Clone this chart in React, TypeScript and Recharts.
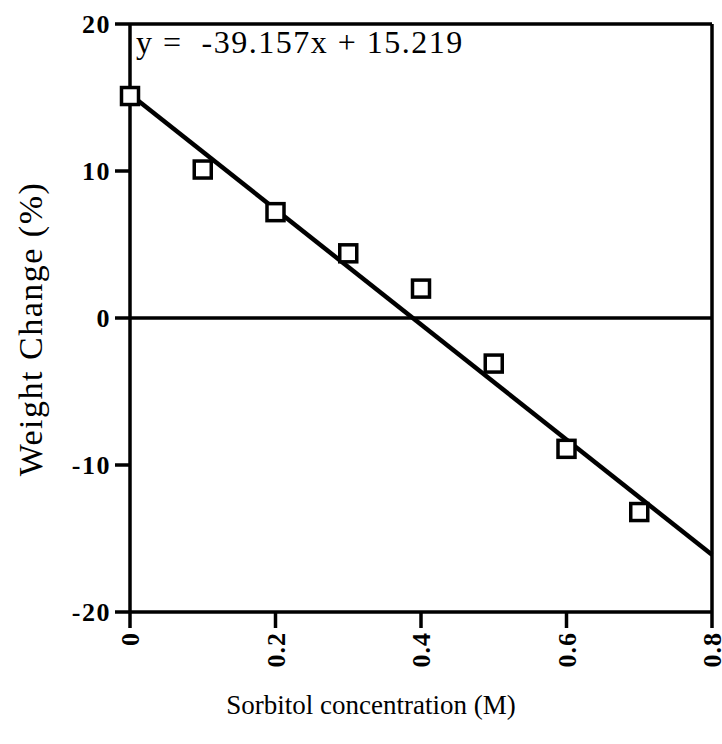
import {
  ComposedChart,
  Scatter,
  Line,
  XAxis,
  YAxis,
  ReferenceLine,
} from "recharts";

const concentration = [0, 0.1, 0.2, 0.3, 0.4, 0.5, 0.6, 0.7];
const weightChange = [15.1, 10.1, 7.2, 4.4, 2.0, -3.1, -8.9, -13.2];

// end points of the fitted line y = -39.157x + 15.219
const fitX = [0, 0.8];
const fitY = [15.219, -16.107];

const xTicks = [0, 0.2, 0.4, 0.6, 0.8];
const yTicks = [-20, -10, 0, 10, 20];
const equation = "y =\u00a0 -39.157x + 15.219";

const points = concentration.map((x, i) => ({ x, y: weightChange[i] }));
const fit = fitX.map((x, i) => ({ x, y: fitY[i] }));

const font = "'Liberation Serif', 'Times New Roman', serif";

function SquareMark(props: any) {
  const { cx, cy } = props;
  const s = 17;
  return (
    <rect
      x={cx - s / 2}
      y={cy - s / 2}
      width={s}
      height={s}
      fill="#fff"
      stroke="#000"
      strokeWidth={3.5}
    />
  );
}

function XTick(props: any) {
  const { x, y, payload } = props;
  return (
    <g transform={`translate(${x},${y + 2}) rotate(-90)`}>
      <text
        textAnchor="end"
        dy="0.35em"
        fontFamily={font}
        fontWeight="bold"
        fontSize={26}
        letterSpacing={1}
        fill="#000"
      >
        {payload.value}
      </text>
    </g>
  );
}

function YTitle(props: any) {
  const { viewBox } = props;
  const cx = viewBox.x + 30;
  const cy = viewBox.y + viewBox.height / 2 + 11;
  return (
    <text
      x={cx}
      y={cy}
      transform={`rotate(-90, ${cx}, ${cy})`}
      textAnchor="middle"
      dominantBaseline="central"
      fontFamily={font}
      fontSize={34}
      letterSpacing={1.5}
      fill="#000"
    >
      Weight Change (%)
    </text>
  );
}

export default function App() {
  return (
    <div style={{ position: "absolute", left: 0, top: 0, background: "#fff" }}>
      <ComposedChart
        width={722}
        height={744}
        margin={{ top: 24, right: 10, left: 0, bottom: 0 }}
      >
        <XAxis
          type="number"
          dataKey="x"
          domain={[0, 0.8]}
          ticks={xTicks}
          tick={<XTick />}
          tickSize={16}
          height={132}
          axisLine={{ stroke: "#000", strokeWidth: 3.5 }}
          tickLine={{ stroke: "#000", strokeWidth: 3.5 }}
          label={{
            value: "Sorbitol concentration (M)",
            position: "insideBottom",
            offset: 30,
            dx: -50,
            style: { fontFamily: font, fontSize: 27, fill: "#000" },
          }}
        />
        <YAxis
          type="number"
          dataKey="y"
          domain={[-20, 20]}
          ticks={yTicks}
          width={130}
          tickSize={15}
          tickMargin={4}
          axisLine={{ stroke: "#000", strokeWidth: 3.5 }}
          tickLine={{ stroke: "#000", strokeWidth: 3.5 }}
          tick={{
            fontFamily: font,
            fontWeight: "bold",
            fontSize: 26,
            letterSpacing: 1.5,
            fill: "#000",
          }}
          label={<YTitle />}
        />
        <ReferenceLine
          y={20}
          stroke="#000"
          strokeWidth={3.5}
          label={{
            value: equation,
            position: "insideTopLeft",
            offset: 6,
            style: {
              fontFamily: font,
              fontSize: 32,
              letterSpacing: 1.5,
              fill: "#000",
              whiteSpace: "pre",
            },
          }}
        />
        <ReferenceLine x={0.8} stroke="#000" strokeWidth={3.5} />
        <ReferenceLine y={0} stroke="#000" strokeWidth={3.5} />
        <Line
          data={fit}
          dataKey="y"
          type="linear"
          stroke="#000"
          strokeWidth={4.5}
          dot={false}
          isAnimationActive={false}
        />
        <Scatter
          data={points}
          dataKey="y"
          shape={<SquareMark />}
          isAnimationActive={false}
        />
      </ComposedChart>
    </div>
  );
}
